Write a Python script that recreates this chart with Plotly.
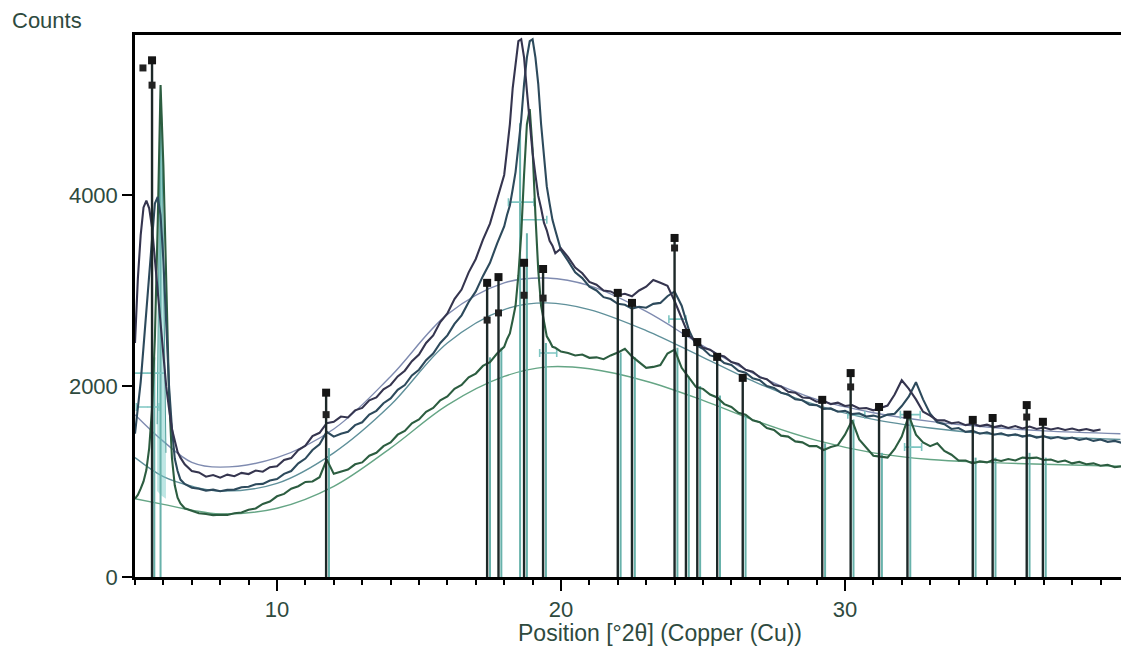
import plotly.graph_objects as go

# ---- sampling grid of the scan (start, step) per region ----
REGIONS = [(5.0, 0.1), (6.75, 0.25), (18.0, 0.1), (20.0, 0.25)]

top_a = [2450, 3120, 3580, 3870, 3940, 3860, 3660, 3340, 3010, 2640, 2310, 1990, 1760, 1550, 1430, 1310, 1250]
top_b = [1180, 1110, 1095, 1050, 1068, 1040, 1072, 1055, 1090, 1078, 1115, 1102, 1150, 1160, 1225, 1245,
         1330, 1375, 1475, 1510, 1610, 1625, 1680, 1670, 1745, 1770, 1850, 1880, 1965, 2010, 2100, 2160,
         2260, 2330, 2450, 2530, 2670, 2760, 2910, 3010, 3190, 3330, 3530, 3700, 3960]
top_c = [4210, 4470, 4740, 5120, 5390, 5610, 5630, 5440, 5090, 4760, 4440, 4210, 3990, 3860, 3710, 3630,
         3520, 3470, 3390]
top_d = [3440, 3350, 3240, 3180, 3090, 3060, 3000, 2990, 2950, 2965, 2940, 3000, 3040, 3110, 3080, 3050,
         2890, 2710, 2530, 2470, 2400, 2380, 2330, 2310, 2250, 2230, 2170, 2150, 2090, 2070, 2010, 1995,
         1940, 1930, 1880, 1875, 1835, 1845, 1810, 1825, 1790, 1800, 1765, 1770, 1745, 1770, 1795, 1910,
         2060, 1970, 1860, 1730, 1690, 1640, 1640, 1610, 1620, 1590, 1605, 1580, 1595, 1570, 1585, 1560,
         1580, 1555, 1575, 1550, 1565, 1545, 1560, 1540, 1555, 1535, 1550, 1530, 1545, None, None, None]

mid_a = [1500, 1760, 2040, 2410, 2790, 3210, 3590, 3910, 3980, 3790, 3310, 2610, 1990, 1560, 1240, 1110, 1020]
mid_b = [975, 935, 925, 905, 915, 898, 912, 915, 940, 945, 972, 975, 1010, 1025, 1080, 1110, 1190, 1240,
         1330, 1390, 1520, 1470, 1500, 1520, 1590, 1620, 1700, 1740, 1820, 1870, 1960, 2010, 2110, 2170,
         2270, 2340, 2450, 2530, 2650, 2740, 2880, 2990, 3150, 3290, 3490]
mid_c = [3670, 3790, 3890, 4060, 4240, 4510, 4790, 5160, 5440, 5610, 5630, 5440, 5160, 4740, 4410, 4090,
         3910, 3740, 3630]
mid_d = [3420, 3310, 3190, 3130, 3040, 3000, 2930, 2910, 2860, 2850, 2810, 2830, 2820, 2860, 2870, 2940,
         2990, 2840, 2590, 2430, 2390, 2320, 2300, 2240, 2220, 2160, 2140, 2080, 2060, 2000, 1980, 1930,
         1910, 1860, 1850, 1805, 1800, 1760, 1765, 1730, 1740, 1705, 1715, 1680, 1690, 1670, 1700, 1710,
         1790, 1890, 2040, 1860, 1710, 1620, 1600, 1550, 1560, 1520, 1530, 1500, 1515, 1490, 1505, 1480,
         1495, 1470, 1485, 1460, 1475, 1450, 1465, 1445, 1460, 1435, 1450, 1425, 1440, 1415, 1425, 1405]

grn_a = [820, 860, 925, 1000, 1120, 1350, 1760, 2500, 3700, 5150, 4300, 3000, 1900, 1250, 960, 830, 770]
grn_b = [720, 695, 668, 660, 648, 652, 650, 668, 675, 705, 718, 765, 790, 845, 870, 925, 950, 995, 1000,
         1045, 1230, 1080, 1105, 1125, 1180, 1200, 1270, 1300, 1370, 1410, 1490, 1530, 1610, 1650, 1730,
         1770, 1850, 1890, 1970, 2010, 2090, 2130, 2210, 2250, 2340]
grn_c = [2410, 2490, 2550, 2690, 2840, 3160, 3590, 4210, 4740, 4900, 4480, 3790, 3210, 2840, 2660, 2520,
         2470, 2410, 2400]
grn_d = [2360, 2345, 2320, 2330, 2295, 2300, 2280, 2320, 2350, 2390, 2310, 2250, 2190, 2200, 2220, 2340,
         2380, 2190, 2090, 1990, 1970, 1910, 1880, 1810, 1780, 1720, 1700, 1640, 1620, 1560, 1540, 1480,
         1470, 1420, 1410, 1370, 1370, 1330, 1360, 1380, 1490, 1640, 1440, 1350, 1270, 1260, 1250, 1340,
         1470, 1690, 1490, 1410, 1370, 1400, 1320, 1280, 1220, 1220, 1190, 1210, 1200, 1230, 1215, 1235,
         1220, 1250, 1245, 1250, 1225, 1230, 1205, 1220, 1190, 1205, 1180, 1190, 1165, 1175, 1150, 1160]

# ---- fitted backgrounds ----
bg_x = [5, 6, 7, 8, 10, 12, 14, 16, 18, 19.5, 21, 23, 25, 27, 29, 31, 33, 35, 37, 39.7]
bg_top = [1700, 1420, 1200, 1150, 1250, 1550, 2100, 2750, 3080, 3130, 3050, 2780, 2420, 2100, 1860, 1720, 1630, 1570, 1530, 1500]
bg_mid = [1250, 1050, 950, 900, 980, 1300, 1800, 2450, 2800, 2870, 2800, 2580, 2300, 2020, 1800, 1650, 1560, 1500, 1470, 1440]
bg_grn = [820, 760, 700, 660, 720, 950, 1350, 1800, 2100, 2200, 2180, 2050, 1850, 1620, 1430, 1300, 1230, 1200, 1180, 1160]

# ---- reference peak sticks ----
peak_pos = [5.6, 11.73, 17.4, 17.8, 18.7, 19.37, 22.0, 22.5, 24.0, 24.4, 24.8, 25.5, 26.4,
            29.2, 30.2, 31.2, 32.2, 34.5, 35.2, 36.4, 36.97]
peak_top = [5410, 1930, 3080, 3140, 3290, 3225, 2975, 2870, 3550, 2555, 2460, 2305, 2085,
            1855, 2135, 1780, 1700, 1645, 1665, 1800, 1625]
second_pos = [5.28, 5.6, 11.73, 17.4, 17.8, 18.7, 19.37, 24.0, 30.2, 36.4]
second_val = [5330, 5150, 1700, 2690, 2765, 2950, 2920, 3445, 1990, 1675]
calc_pos = [5.68, 5.9, 11.83, 17.5, 17.9, 18.56, 18.8, 19.47, 22.1, 22.6, 24.1, 24.5, 24.9, 25.6, 26.5,
            29.3, 30.3, 31.3, 32.3, 34.6, 35.3, 36.5, 37.07]
calc_top = [2300, 5000, 1350, 2300, 2400, 4750, 3600, 2450, 2350, 2300, 2400, 2100, 2000, 1900, 1700,
            1400, 1650, 1300, 1700, 1250, 1250, 1300, 1250]

# ---- peak width crosses ----
cross_x = [5.45, 5.45, 18.6, 19.05, 19.55, 24.1, 30.4, 32.3, 32.4]
cross_y = [2135, 1780, 3925, 3740, 2345, 2700, 1700, 1700, 1360]
cross_w = [0.6, 0.4, 0.45, 0.45, 0.3, 0.3, 0.3, 0.35, 0.3]

# ---- sharp peak profile (filled) ----
fill_x = [5.78, 5.83, 5.87, 5.9, 5.94, 5.99, 6.04, 6.09]
fill_y = [1600, 3400, 4700, 5100, 4800, 3600, 2200, 1300]
fill_base = [900, 880, 870, 860, 850, 840, 830, 820]

TEXT = "#2e4a3e"
FONT = "Liberation Sans, Arial, sans-serif"


def grid(values_by_region):
    xs, ys = [], []
    for (start, step), vals in zip(REGIONS, values_by_region):
        for i, v in enumerate(vals):
            xs.append(round(start + step * i, 3))
            ys.append(v)
    return xs, ys


fig = go.Figure()

for y, c in [(bg_top, "#7f8bb0"), (bg_mid, "#5f909a"), (bg_grn, "#65a585")]:
    fig.add_trace(go.Scatter(x=bg_x, y=y, mode="lines", line=dict(color=c, width=1.4, shape="spline"),
                             hoverinfo="skip"))

# filled sharp peak
fig.add_trace(go.Scatter(x=fill_x, y=fill_base, mode="lines", line=dict(width=0), hoverinfo="skip"))
fig.add_trace(go.Scatter(x=fill_x, y=fill_y, mode="lines", fill="tonexty",
                         fillcolor="rgba(110,200,195,0.45)", line=dict(color="#4f9f9a", width=1),
                         hoverinfo="skip"))

# calculated (teal) sticks
for xp, yp in zip(calc_pos, calc_top):
    fig.add_trace(go.Scatter(x=[xp, xp], y=[0, yp], mode="lines",
                             line=dict(color="#68b2ab", width=2), hoverinfo="skip"))

# crosses
fig.add_trace(go.Scatter(x=cross_x, y=cross_y, mode="markers", marker=dict(size=1, color="#7ec6c2"),
                         error_x=dict(type="data", array=cross_w, color="#7ec6c2", thickness=1.6, width=4),
                         hoverinfo="skip"))

for vals, c in [((grn_a, grn_b, grn_c, grn_d), "#2c5d40"),
                ((mid_a, mid_b, mid_c, mid_d), "#2d4a5c"),
                ((top_a, top_b, top_c, top_d), "#35354f")]:
    xs, ys = grid(vals)
    fig.add_trace(go.Scatter(x=xs, y=ys, mode="lines", line=dict(color=c, width=2.1),
                             connectgaps=False, hoverinfo="skip"))

# dark reference sticks
for xp, yp in zip(peak_pos, peak_top):
    fig.add_trace(go.Scatter(x=[xp, xp], y=[0, yp], mode="lines",
                             line=dict(color="#1d2828", width=2.4), hoverinfo="skip"))

fig.add_trace(go.Scatter(x=peak_pos, y=peak_top, mode="markers",
                         marker=dict(symbol="square", size=8, color="#151515"), hoverinfo="skip"))
fig.add_trace(go.Scatter(x=second_pos, y=second_val, mode="markers",
                         marker=dict(symbol="square", size=7, color="#222222"), hoverinfo="skip"))

fig.update_layout(
    width=1121, height=650,
    margin=dict(l=135, r=0, t=35, b=73),
    paper_bgcolor="white", plot_bgcolor="white",
    showlegend=False,
    font=dict(family=FONT, size=22, color=TEXT),
    xaxis=dict(range=[5.0, 39.72], showgrid=False, zeroline=False,
               showline=True, linecolor="black", linewidth=2.5, mirror=True,
               tickmode="linear", tick0=0, dtick=10, ticks="outside", ticklen=11, tickwidth=2,
               tickcolor="black", tickfont=dict(family=FONT, size=22, color=TEXT),
               minor=dict(dtick=1, tick0=0, ticks="outside", ticklen=5, tickwidth=1.6, tickcolor="black")),
    yaxis=dict(range=[0, 5675], showgrid=False, zeroline=False,
               showline=True, linecolor="black", linewidth=2.5,
               tickmode="array", tickvals=[0, 2000, 4000], ticks="outside", ticklen=10, tickwidth=2,
               tickcolor="black", tickfont=dict(family=FONT, size=22, color=TEXT)),
    annotations=[
        dict(text="Counts", xref="paper", yref="paper", x=-0.1268, y=1.026, xanchor="left",
             yanchor="middle", showarrow=False, font=dict(family=FONT, size=22, color=TEXT)),
        dict(text="Position [°2θ] (Copper (Cu))", xref="paper", yref="paper", x=0.532, y=0,
             yshift=-56, xanchor="center", yanchor="middle", showarrow=False,
             font=dict(family=FONT, size=23, color=TEXT)),
    ],
)

fig.write_html("out.html")
